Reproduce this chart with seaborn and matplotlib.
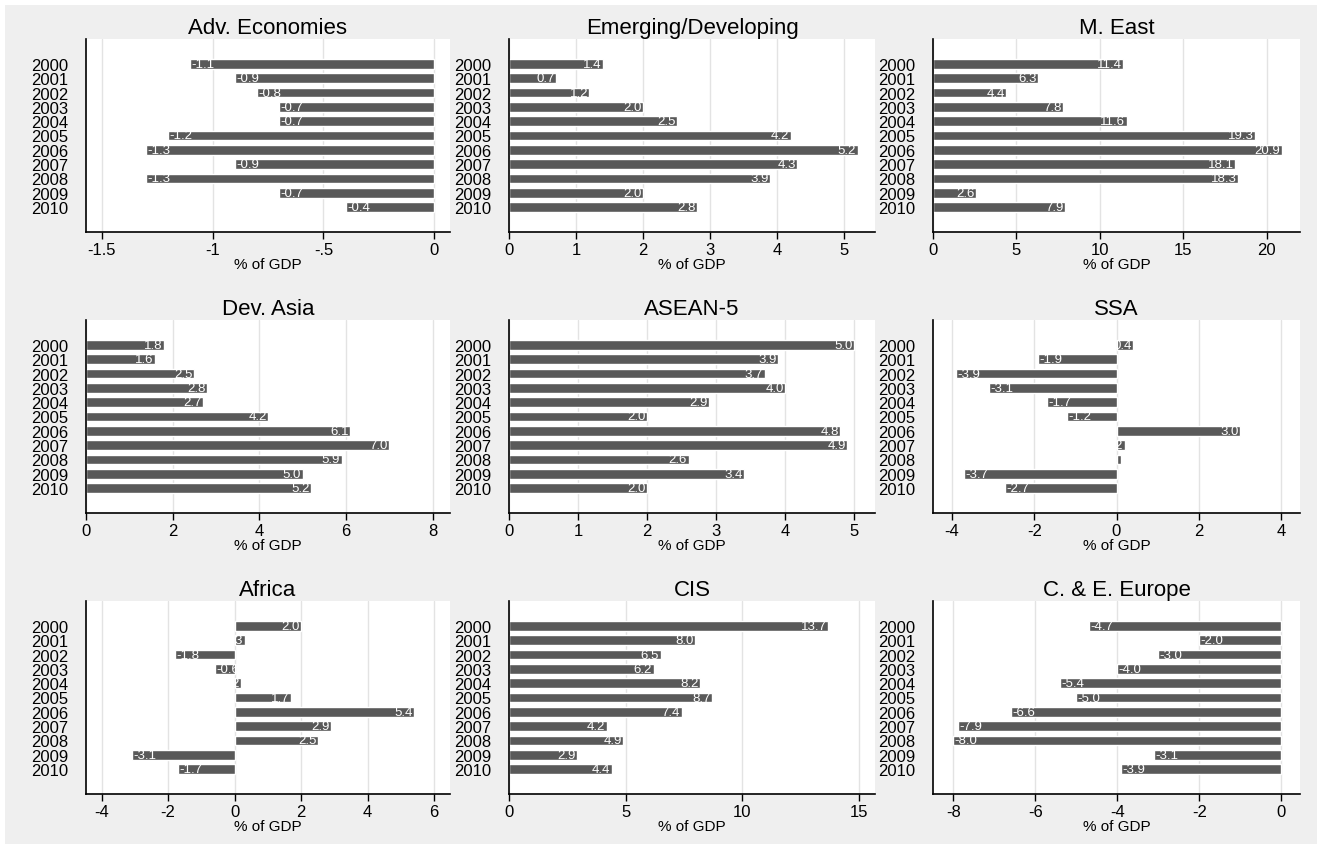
import numpy as np
import pandas as pd
import matplotlib
matplotlib.use("Agg")
import matplotlib.pyplot as plt
import seaborn as sns

years = [str(y) for y in range(2000, 2011)]

adv_economies = [-1.1, -0.9, -0.8, -0.7, -0.7, -1.2, -1.3, -0.9, -1.3, -0.7, -0.4]
emerging_developing = [1.4, 0.7, 1.2, 2.0, 2.5, 4.2, 5.2, 4.3, 3.9, 2.0, 2.8]
m_east = [11.4, 6.3, 4.4, 7.8, 11.6, 19.3, 20.9, 18.1, 18.3, 2.6, 7.9]
dev_asia = [1.8, 1.6, 2.5, 2.8, 2.7, 4.2, 6.1, 7.0, 5.9, 5.0, 5.2]
asean5 = [5.0, 3.9, 3.7, 4.0, 2.9, 2.0, 4.8, 4.9, 2.6, 3.4, 2.0]
ssa = [0.4, -1.9, -3.9, -3.1, -1.7, -1.2, 3.0, 0.2, 0.1, -3.7, -2.7]
africa = [2.0, 0.3, -1.8, -0.6, 0.2, 1.7, 5.4, 2.9, 2.5, -3.1, -1.7]
cis = [13.7, 8.0, 6.5, 6.2, 8.2, 8.7, 7.4, 4.2, 4.9, 2.9, 4.4]
ce_europe = [-4.7, -2.0, -3.0, -4.0, -5.4, -5.0, -6.6, -7.9, -8.0, -3.1, -3.9]

titles = ["Adv. Economies", "Emerging/Developing", "M. East",
          "Dev. Asia", "ASEAN-5", "SSA",
          "Africa", "CIS", "C. & E. Europe"]
series = [adv_economies, emerging_developing, m_east,
          dev_asia, asean5, ssa,
          africa, cis, ce_europe]
xticks = [[-1.5, -1, -0.5, 0], [0, 1, 2, 3, 4, 5], [0, 5, 10, 15, 20],
          [0, 2, 4, 6, 8], [0, 1, 2, 3, 4, 5], [-4, -2, 0, 2, 4],
          [-4, -2, 0, 2, 4, 6], [0, 5, 10, 15], [-8, -6, -4, -2, 0]]
xtick_labels = [["-1.5", "-1", "-.5", "0"], None, None,
                None, None, None,
                None, None, None]
xlims = [(-1.57, 0.07), (0, 5.46), (0, 22.0),
         (0, 8.4), (0, 5.3), (-4.46, 4.46),
         (-4.47, 6.48), (0, 15.7), (-8.5, 0.46)]

sns.set_theme(style="white")
plt.rcParams['font.family'] = ['Liberation Sans', 'DejaVu Sans']
plt.rcParams['text.color'] = 'black'
plt.rcParams['axes.labelcolor'] = 'black'
plt.rcParams['xtick.color'] = 'black'
plt.rcParams['ytick.color'] = 'black'

W, H = 1322, 845
fig = plt.figure(figsize=(W / 100, H / 100), dpi=100, facecolor="white")

# fundo cinza da area do grafico
fig.patches.append(plt.Rectangle((5 / W, 0), (W - 10) / W, (H - 6) / H,
                                 transform=fig.transFigure, facecolor="#efefef",
                                 edgecolor="none", zorder=-10))

col_left = [86, 509, 933]
col_right = [450, 875, 1300]
row_top = [40, 321, 602]
row_bottom = [233, 514, 795]

bar_color = "#595959"

for i, (titulo, valores) in enumerate(zip(titles, series)):
    r, c = divmod(i, 3)
    left = col_left[c] / W
    bottom = 1 - row_bottom[r] / H
    width = (col_right[c] - col_left[c]) / W
    height = (row_bottom[r] - row_top[r]) / H
    ax = fig.add_axes([left, bottom, width, height])
    ax.set_facecolor("white")

    df = pd.DataFrame({"ano": years, "valor": valores})
    sns.barplot(data=df, x="valor", y="ano", orient="h", color=bar_color,
                saturation=1, width=0.68, ax=ax, zorder=2)

    for k, v in enumerate(valores):
        if v >= 0:
            ax.annotate(f"{v:.1f}", (v, k), xytext=(-1, 0), textcoords="offset points",
                        ha="right", va="center", color="white", fontsize=9.5,
                        zorder=3, annotation_clip=True)
        else:
            ax.annotate(f"{v:.1f}", (v, k), xytext=(1, 0), textcoords="offset points",
                        ha="left", va="center", color="white", fontsize=9.5,
                        zorder=3, annotation_clip=True)

    ax.set_xlim(*xlims[i])
    ax.set_ylim(11.75, -1.75)
    ax.set_xticks(xticks[i])
    if xtick_labels[i] is not None:
        ax.set_xticklabels(xtick_labels[i])
    else:
        ax.set_xticklabels([str(t) for t in xticks[i]])
    for t in xticks[i]:
        ax.axvline(t, color="#e3e3e3", linewidth=1, zorder=0)

    ax.set_title(titulo, fontsize=16, pad=4, color="black")
    ax.set_xlabel("% of GDP", fontsize=11, labelpad=0)
    ax.set_ylabel("")
    ax.tick_params(axis="x", length=5, width=1, color="black", labelsize=12, pad=2,
                   direction="out", bottom=True)
    ax.tick_params(axis="y", length=0, labelsize=12, pad=13)
    for lado in ["top", "right"]:
        ax.spines[lado].set_visible(False)
    for lado in ["left", "bottom"]:
        ax.spines[lado].set_color("black")
        ax.spines[lado].set_linewidth(1.2)

fig.savefig("out.png", dpi=100, facecolor=fig.get_facecolor())
